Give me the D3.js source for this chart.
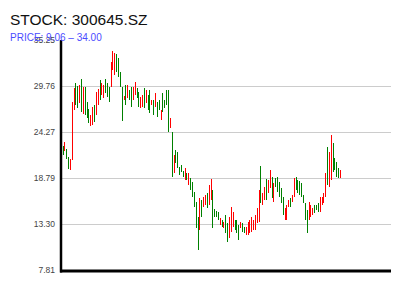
<!DOCTYPE html>
<html>
<head>
<meta charset="utf-8">
<script src="https://cdn.jsdelivr.net/npm/d3@7"></script>
<style>
  body { margin: 0; background: #fff; }
  svg { font-family: "Liberation Sans", Arial, Helvetica, sans-serif; }
</style>
</head>
<body>
<div id="chart"></div>
<script>
// stock code and price range shown in the header
const stockCode = "300645.SZ";
const priceLow = 9.06;
const priceHigh = 34.00;

// y tick labels as printed on the left axis
const yTicks = [7.81, 13.30, 18.79, 24.27, 29.76, 35.25];

// daily open / close (bodies only)
const opens = [
  22.62, 22.02, 22.26, 21.31, 19.76, 20.95, 26.91, 30.13, 29.77, 27.75,
  30.61, 26.44, 29.66, 27.87, 27.03, 25.00, 25.12, 27.51, 26.32, 27.51,
  30.49, 28.70, 28.34, 30.61, 30.13, 29.66, 29.66, 31.68, 31.09, 33.59,
  33.11, 31.44, 29.66, 28.11, 29.89, 28.34, 29.30, 29.66, 28.11, 28.70,
  29.54, 29.06, 27.15, 27.27, 29.54, 27.75, 28.70, 29.30, 27.51, 28.11,
  27.27, 27.87, 28.11, 25.72, 28.94, 28.11, 29.30, 29.30, 24.77, 24.29,
  19.40, 22.14, 21.90, 20.12, 20.35, 19.64, 18.56, 19.40, 17.97, 18.80,
  18.33, 17.13, 15.94, 14.15, 12.60, 16.18, 15.35, 15.58, 17.01, 15.58,
  16.18, 17.37, 15.11, 14.87, 14.75, 13.20, 13.80, 12.84, 14.39, 13.44,
  11.65, 12.36, 12.96, 13.80, 13.80, 13.20, 12.84, 13.44, 12.96, 12.01,
  12.01, 12.24, 12.36, 12.60, 12.60, 13.44, 13.56, 20.23, 15.58, 16.18,
  18.68, 17.01, 17.61, 18.92, 15.94, 18.80, 18.92, 18.33, 17.61, 16.54,
  13.80, 13.80, 15.35, 16.42, 15.94, 16.54, 18.92, 18.56, 18.45, 18.21,
  16.78, 15.82, 14.99, 13.80, 14.15, 14.39, 15.58, 15.58, 15.82, 14.75,
  15.58, 15.82, 16.54, 22.50, 17.73, 18.56, 22.98, 21.19, 20.71, 20.00,
  18.80
];
const closes = [
  21.55, 23.10, 21.07, 19.88, 21.07, 27.87, 29.54, 27.51, 27.15, 29.89,
  26.67, 29.66, 26.32, 25.96, 25.36, 26.32, 27.27, 25.48, 29.06, 29.42,
  28.11, 30.13, 29.89, 28.94, 28.46, 27.87, 32.64, 33.95, 33.71, 31.44,
  30.85, 29.66, 25.60, 28.58, 27.51, 29.89, 28.11, 27.27, 29.66, 30.25,
  28.34, 27.27, 28.46, 28.70, 27.15, 29.30, 26.91, 26.56, 28.11, 26.32,
  28.94, 26.08, 26.91, 26.91, 26.67, 27.15, 27.51, 24.29, 25.96, 18.92,
  21.55, 20.59, 20.00, 19.16, 19.52, 18.92, 20.00, 18.56, 19.40, 17.37,
  16.54, 15.35, 12.84, 10.22, 16.42, 14.15, 16.54, 16.78, 15.23, 17.97,
  18.68, 12.84, 14.15, 14.15, 13.80, 14.03, 12.96, 13.56, 12.24, 11.17,
  14.15, 15.35, 14.75, 12.60, 12.24, 11.41, 13.56, 12.36, 12.24, 12.96,
  13.56, 13.80, 14.15, 13.80, 14.39, 15.23, 17.37, 15.82, 17.01, 17.73,
  16.18, 18.56, 19.76, 16.42, 18.21, 17.73, 17.13, 16.54, 15.82, 14.39,
  15.23, 15.58, 16.18, 15.35, 16.78, 18.80, 17.37, 17.01, 16.78, 16.54,
  15.82, 13.80, 12.24, 15.94, 15.58, 15.23, 14.63, 14.99, 14.75, 16.54,
  16.54, 17.01, 19.40, 17.97, 21.90, 23.93, 19.52, 19.76, 18.92, 18.80,
  19.76
];

const width = 400, height = 300;
const plot = { left: 61, right: 391, top: 40.1, bottom: 270.2 };

const svg = d3.select("#chart").append("svg")
    .attr("width", width)
    .attr("height", height);

// header
svg.append("text")
    .attr("x", 10).attr("y", 25)
    .attr("font-size", 15.5)
    .attr("fill", "#111")
    .text("STOCK: " + stockCode);

const y = d3.scaleLinear()
    .domain(d3.extent(yTicks))
    .range([plot.bottom, plot.top]);

const x = d3.scaleLinear()
    .domain([0, opens.length - 1])
    .range([63, 340.5]);

// grid lines for the inner ticks
svg.append("g")
    .selectAll("line")
    .data(yTicks.slice(1, -1))
    .enter().append("line")
    .attr("x1", plot.left).attr("x2", plot.right)
    .attr("y1", d => Math.round(y(d)) + 0.5)
    .attr("y2", d => Math.round(y(d)) + 0.5)
    .attr("stroke", "#cccccc")
    .attr("stroke-width", 1);

// tick labels
svg.append("g")
    .selectAll("text")
    .data(yTicks)
    .enter().append("text")
    .attr("x", 55)
    .attr("y", d => y(d))
    .attr("dy", "0.34em")
    .attr("text-anchor", "end")
    .attr("font-size", 8.5)
    .attr("fill", "#444")
    .text(d => d3.format(".2f")(d));

// bodies
const bars = d3.range(opens.length);
svg.append("g")
    .attr("shape-rendering", "crispEdges")
    .selectAll("rect")
    .data(bars)
    .enter().append("rect")
    .attr("x", i => x(i) - 0.5)
    .attr("width", 1)
    .attr("y", i => y(Math.max(opens[i], closes[i])))
    .attr("height", i => Math.max(1, Math.abs(y(opens[i]) - y(closes[i]))))
    .attr("fill", i => closes[i] >= opens[i] ? "#ff0000" : "#008000");

// axes lines
svg.append("line")
    .attr("x1", 61).attr("x2", 61)
    .attr("y1", plot.top).attr("y2", 272.5)
    .attr("stroke", "#000").attr("stroke-width", 2.5);
svg.append("line")
    .attr("x1", 60).attr("x2", plot.right)
    .attr("y1", 271).attr("y2", 271)
    .attr("stroke", "#000").attr("stroke-width", 3);

// price range subtitle (drawn over the top tick label like the original)
svg.append("text")
    .attr("x", 10).attr("y", 40.5)
    .attr("font-size", 10)
    .attr("fill", "#4b4bff")
    .text("PRICE: " + priceLow.toFixed(2) + " \u2013 " + priceHigh.toFixed(2));
</script>
</body>
</html>
